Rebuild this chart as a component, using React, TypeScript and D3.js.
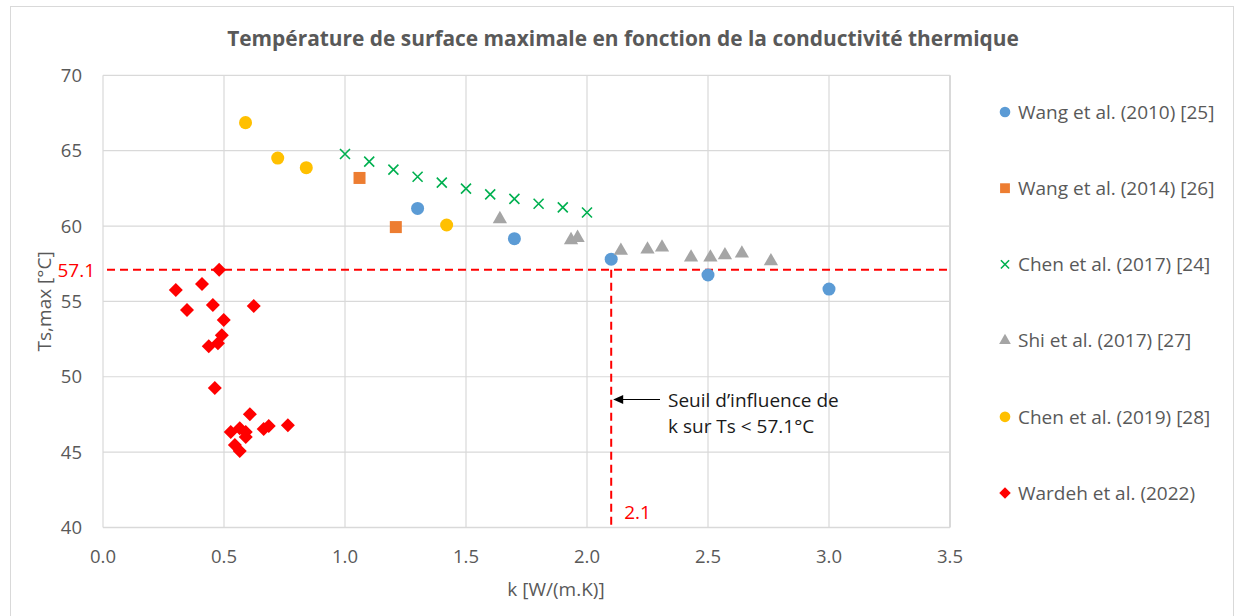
import React, { useEffect } from "react";
import * as d3 from "d3";

// ---- Data ----
const xTicks = [0, 0.5, 1.0, 1.5, 2.0, 2.5, 3.0, 3.5];
const yTicks = [40, 45, 50, 55, 60, 65, 70];

const wang2010K = [1.3, 1.7, 2.1, 2.5, 3.0];
const wang2010T = [61.17, 59.16, 57.8, 56.75, 55.82];

const wang2014K = [1.06, 1.21];
const wang2014T = [63.19, 59.93];

const chen2017K = [1.0, 1.1, 1.2, 1.3, 1.4, 1.5, 1.6, 1.7, 1.8, 1.9, 2.0];
const chen2017T = [64.78, 64.27, 63.74, 63.27, 62.88, 62.48, 62.1, 61.8, 61.48, 61.24, 60.9];

const shi2017K = [1.64, 1.934, 1.961, 2.14, 2.25, 2.31, 2.43, 2.51, 2.57, 2.64, 2.76];
const shi2017T = [60.46, 59.07, 59.22, 58.36, 58.45, 58.58, 57.92, 57.92, 58.07, 58.18, 57.67];

const chen2019K = [0.589, 0.722, 0.84, 1.42];
const chen2019T = [66.86, 64.51, 63.87, 60.07];

const wardehK = [0.48, 0.301, 0.409, 0.347, 0.454, 0.623, 0.499, 0.491, 0.475, 0.437, 0.462,
  0.607, 0.764, 0.685, 0.664, 0.528, 0.565, 0.59, 0.59, 0.545, 0.565];
const wardehT = [57.1, 55.76, 56.16, 54.43, 54.76, 54.69, 53.76, 52.76, 52.23, 52.03, 49.25,
  47.52, 46.79, 46.73, 46.53, 46.33, 46.59, 46.33, 46.0, 45.47, 45.07];

const seriesNames = [
  "Wang et al. (2010) [25]",
  "Wang et al. (2014) [26]",
  "Chen et al. (2017) [24]",
  "Shi et al. (2017) [27]",
  "Chen et al. (2019) [28]",
  "Wardeh et al. (2022)",
];

const thresholdT = 57.1;
const thresholdK = 2.1;

const title = "Température de surface maximale en fonction de la conductivité thermique";
const xTitle = "k [W/(m.K)]";
const yTitle = "Ts,max [°C]";
const noteLines = ["Seuil d’influence de", "k sur Ts < 57.1°C"];

// ---- Styles ----
type Shape = "circle" | "square" | "x" | "triangle" | "diamond";
const series: { name: string; k: number[]; t: number[]; color: string; shape: Shape }[] = [
  { name: seriesNames[0], k: wang2010K, t: wang2010T, color: "#5B9BD5", shape: "circle" },
  { name: seriesNames[1], k: wang2014K, t: wang2014T, color: "#ED7D31", shape: "square" },
  { name: seriesNames[2], k: chen2017K, t: chen2017T, color: "#00B050", shape: "x" },
  { name: seriesNames[3], k: shi2017K, t: shi2017T, color: "#A5A5A5", shape: "triangle" },
  { name: seriesNames[4], k: chen2019K, t: chen2019T, color: "#FFC000", shape: "circle" },
  { name: seriesNames[5], k: wardehK, t: wardehT, color: "#FF0000", shape: "diamond" },
];

const FONT = "'Open Sans', 'Noto Sans', sans-serif";
const TXT = "#595959";
const GRID = "#D9D9D9";

function markerPath(shape: Shape, scale = 1): string {
  if (shape === "circle") return d3.symbol(d3.symbolCircle, 133 * scale * scale)()!;
  if (shape === "square") return d3.symbol(d3.symbolSquare, 144 * scale * scale)()!;
  if (shape === "triangle") return d3.symbol(d3.symbolTriangle, 88 * scale * scale)()!;
  if (shape === "diamond") {
    const r = 7 * scale;
    return `M0,${-r}L${r},0L0,${r}L${-r},0Z`;
  }
  const r = 5 * scale;
  return `M${-r},${-r}L${r},${r}M${-r},${r}L${r},${-r}`;
}

function Marker({ shape, color, x, y, scale = 1 }: { shape: Shape; color: string; x: number; y: number; scale?: number }) {
  const d = markerPath(shape, scale);
  if (shape === "x")
    return <path d={d} transform={`translate(${x},${y})`} fill="none" stroke={color} strokeWidth={1.6} />;
  return <path d={d} transform={`translate(${x},${y})`} fill={color} />;
}

export default function App() {
  useEffect(() => {
    document.body.style.margin = "0";
  }, []);

  const W = 1235;
  const H = 616;
  const x = d3.scaleLinear().domain([0, 3.5]).range([103, 950]);
  const y = d3.scaleLinear().domain([40, 70]).range([527.5, 75.3]);

  const legendY = d3.scaleLinear().domain([0, 5]).range([112, 493]);

  const xTh = x(thresholdK);
  const yTh = y(thresholdT);

  return (
    <svg width={W} height={H} style={{ display: "block", position: "absolute", left: 0, top: 0 }} fontFamily={FONT}>
      <rect x={0} y={0} width={W} height={H} fill="#fff" />
      <rect x={10.5} y={6.5} width={1223} height={640} fill="#fff" stroke={GRID} strokeWidth={1} />

      {/* Gridlines */}
      {yTicks.map((v) => (
        <line key={"gy" + v} x1={x(0)} x2={x(3.5)} y1={y(v)} y2={y(v)} stroke={GRID} strokeWidth={v === 40 ? 1.6 : 1.2} />
      ))}
      {xTicks.map((v) => (
        <line key={"gx" + v} x1={x(v)} x2={x(v)} y1={y(70)} y2={y(40)} stroke={GRID} strokeWidth={v === 3.5 ? 2 : 1.2} />
      ))}

      {/* Tick labels */}
      {yTicks.map((v) => (
        <text key={"ty" + v} x={82} y={y(v)} dy="0.36em" textAnchor="end" fontSize={18.5} fill={TXT}>
          {d3.format("d")(v)}
        </text>
      ))}
      {xTicks.map((v) => (
        <text key={"tx" + v} x={x(v)} y={563} textAnchor="middle" fontSize={18.5} fill={TXT}>
          {d3.format(".1f")(v)}
        </text>
      ))}

      {/* Axis titles */}
      <text x={556} y={596} textAnchor="middle" fontSize={19} fill={TXT}>{xTitle}</text>
      <text transform={`translate(51,${(y(40) + y(70)) / 2}) rotate(-90)`} textAnchor="middle" fontSize={19} fill={TXT}>
        {yTitle}
      </text>

      {/* Title */}
      <text x={623} y={46} textAnchor="middle" fontSize={20.9} fontWeight="bold" fill={TXT}>{title}</text>

      {/* Threshold lines */}
      <line x1={x(0) + 4} x2={x(3.5)} y1={yTh} y2={yTh} stroke="#FF0000" strokeWidth={2} strokeDasharray="8,5" />
      <line x1={xTh} x2={xTh} y1={yTh} y2={y(40)} stroke="#FF0000" strokeWidth={2} strokeDasharray="8,5" />
      <text x={95} y={yTh} dy="0.36em" textAnchor="end" fontSize={19} fill="#FF0000">{d3.format(".1f")(thresholdT)}</text>
      <text x={xTh + 13} y={512} dy="0.36em" textAnchor="start" fontSize={19} fill="#FF0000">{d3.format(".1f")(thresholdK)}</text>

      {/* Series markers */}
      {series.map((s, si) => (
        <g key={"s" + si}>
          {s.k.map((kv, i) => (
            <Marker key={i} shape={s.shape} color={s.color} x={x(kv)} y={y(s.t[i])} />
          ))}
        </g>
      ))}

      {/* Annotation */}
      <line x1={660} x2={621} y1={399.5} y2={399.5} stroke="#000" strokeWidth={1.2} />
      <path d={`M${xTh + 2},399.5L${xTh + 12},395L${xTh + 12},404Z`} fill="#000" />
      {noteLines.map((l, i) => (
        <text key={"n" + i} x={668} y={400.5 + i * 26} dy="0.36em" fontSize={19} fill="#1a1a1a">{l}</text>
      ))}

      {/* Legend */}
      {series.map((s, i) => (
        <g key={"lg" + i}>
          <Marker shape={s.shape} color={s.color} x={1005} y={legendY(i)} scale={0.82} />
          <text x={1018} y={legendY(i)} dy="0.36em" fontSize={19} fill={TXT}>{s.name}</text>
        </g>
      ))}
    </svg>
  );
}
